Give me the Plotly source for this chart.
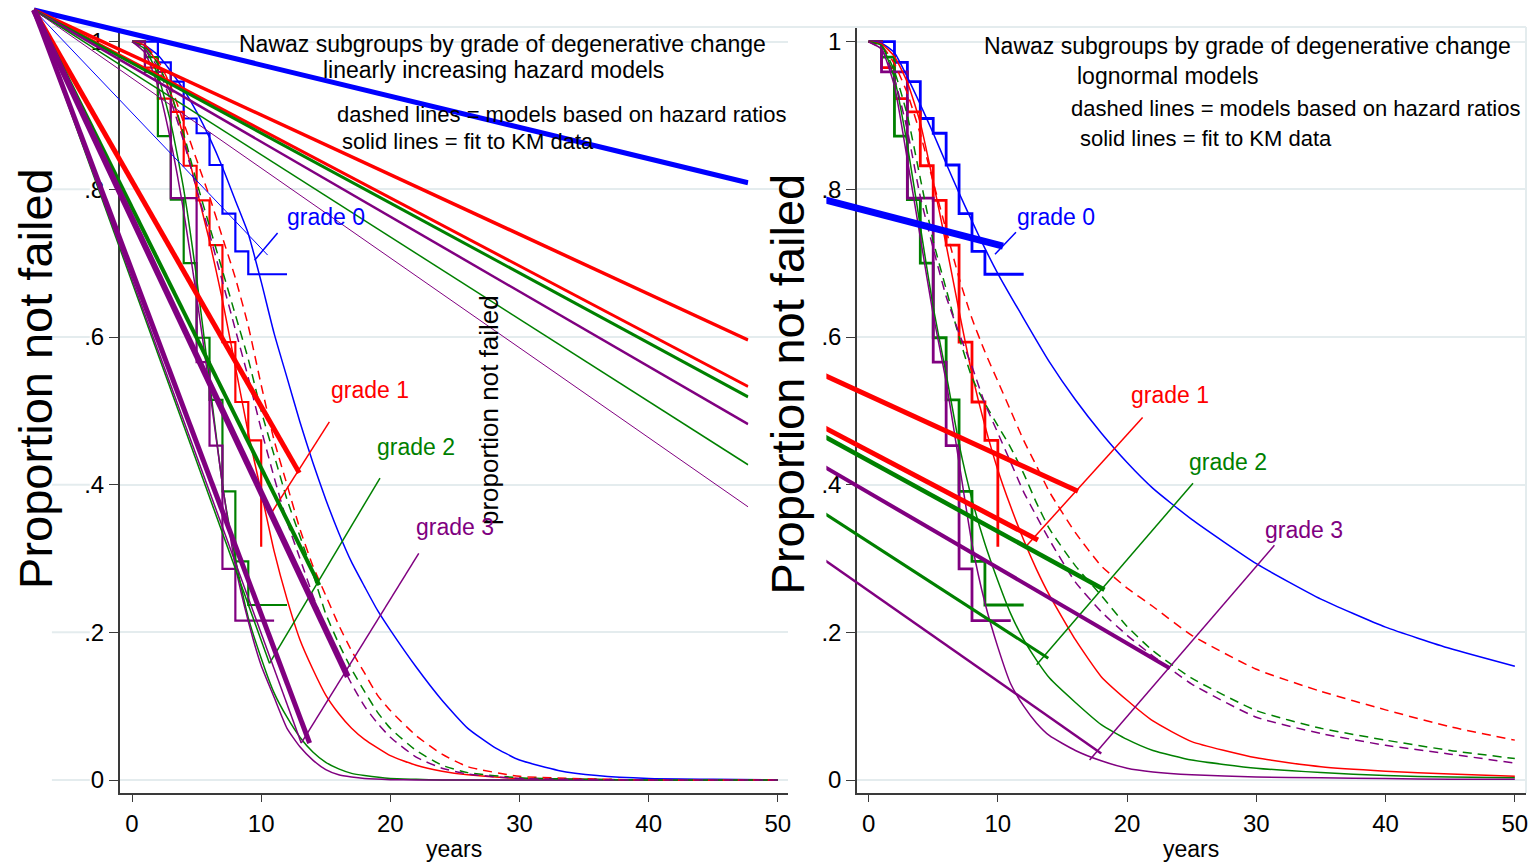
import plotly.graph_objects as go

W, H = 1532, 863
FONT = "Liberation Sans, Arial, sans-serif"
BLUE, RED, GREEN, PURPLE = "#0000ff", "#ff0000", "#008000", "#800080"
GRID = "#e4ecee"
AXIS = "#3a3a3a"

# ---------------- data ----------------
grade_labels = ["grade 0", "grade 1", "grade 2", "grade 3"]

# Kaplan-Meier step data (same in both panels)
km_t_g0 = [0, 2, 3, 4, 5, 6, 7, 8, 9, 12]
km_s_g0 = [1, 0.972, 0.946, 0.896, 0.876, 0.833, 0.767, 0.716, 0.685, 0.685]
km_t_g1 = [0, 1, 2, 3, 4, 5, 6, 7, 8, 9, 10]
km_s_g1 = [1, 0.965, 0.923, 0.905, 0.832, 0.785, 0.7245, 0.593, 0.512, 0.460, 0.316]
km_t_g2 = [0, 1, 2, 3, 4, 5, 6, 7, 8, 9, 12]
km_s_g2 = [1, 0.979, 0.872, 0.786, 0.700, 0.599, 0.515, 0.391, 0.296, 0.237, 0.237]
km_t_g3 = [0, 1, 3, 5, 6, 7, 8, 11]
km_s_g3 = [1, 0.959, 0.788, 0.566, 0.453, 0.286, 0.216, 0.216]

# Left panel: linearly increasing hazard models
lin_fit_t_g0 = [0, 1, 2, 3, 4, 5, 6, 7, 8, 9, 10, 11, 12, 13, 14, 15, 16, 17, 18, 19, 20, 22, 24, 26, 28, 30, 33, 36, 40, 45, 50]
lin_fit_s_g0 = [1, 0.995, 0.982, 0.96, 0.935, 0.905, 0.87, 0.83, 0.785, 0.74, 0.675, 0.605, 0.545, 0.485, 0.43, 0.38, 0.335, 0.295, 0.262, 0.23, 0.203, 0.153, 0.108, 0.07, 0.045, 0.027, 0.013, 0.006, 0.002, 0.001, 0.0]
lin_fit_t = [0, 1, 2, 3, 4, 5, 6, 7, 8, 9, 10, 11, 12, 13, 14, 15, 16, 17, 18, 20, 22, 24, 26, 30, 35, 40, 50]
lin_fit_s_g1 = [1, 0.995, 0.97, 0.93, 0.87, 0.8, 0.73, 0.65, 0.56, 0.47, 0.39, 0.31, 0.245, 0.19, 0.15, 0.115, 0.09, 0.07, 0.055, 0.033, 0.02, 0.012, 0.007, 0.002, 0.001, 0.0, 0.0]
lin_fit_s_g2 = [1, 0.99, 0.955, 0.89, 0.8, 0.68, 0.54, 0.40, 0.30, 0.22, 0.165, 0.118, 0.085, 0.058, 0.038, 0.024, 0.015, 0.009, 0.006, 0.002, 0.001, 0.0, 0.0, 0.0, 0.0, 0.0, 0.0]
lin_fit_s_g3 = [1, 0.985, 0.94, 0.865, 0.77, 0.655, 0.53, 0.40, 0.29, 0.215, 0.155, 0.112, 0.07, 0.045, 0.027, 0.014, 0.007, 0.004, 0.002, 0.0005, 0.0, 0.0, 0.0, 0.0, 0.0, 0.0, 0.0]
lin_hr_t = [0, 1, 2, 3, 4, 5, 6, 7, 8, 9, 10, 11, 12, 13, 14, 15, 16, 17, 18, 19, 20, 22, 24, 26, 30, 40, 50]
lin_hr_s_g1 = [1, 0.995, 0.975, 0.94, 0.89, 0.84, 0.79, 0.735, 0.68, 0.615, 0.535, 0.46, 0.40, 0.34, 0.29, 0.25, 0.21, 0.175, 0.145, 0.115, 0.094, 0.06, 0.035, 0.018, 0.005, 0.0, 0.0]
lin_hr_s_g2 = [1, 0.993, 0.97, 0.93, 0.875, 0.81, 0.75, 0.69, 0.63, 0.57, 0.50, 0.44, 0.38, 0.33, 0.28, 0.225, 0.185, 0.15, 0.12, 0.092, 0.07, 0.04, 0.02, 0.01, 0.003, 0.0, 0.0]
lin_hr_s_g3 = [1, 0.99, 0.965, 0.92, 0.865, 0.80, 0.74, 0.675, 0.61, 0.545, 0.475, 0.41, 0.35, 0.30, 0.25, 0.205, 0.165, 0.13, 0.10, 0.077, 0.058, 0.031, 0.016, 0.008, 0.002, 0.0, 0.0]

# Right panel: lognormal models
log_fit_t_g0 = [0, 1, 2, 3, 4, 5, 6, 7, 8, 9, 10, 12, 14, 16, 18, 20, 22, 25, 30, 35, 40, 45, 50]
log_fit_s_g0 = [1, 0.998, 0.985, 0.952, 0.915, 0.876, 0.835, 0.795, 0.757, 0.72, 0.686, 0.625, 0.566, 0.515, 0.47, 0.43, 0.395, 0.353, 0.293, 0.245, 0.207, 0.178, 0.154]
log_t = [0, 1, 2, 3, 4, 5, 6, 7, 8, 9, 10, 11, 12, 13, 14, 16, 18, 20, 22, 25, 30, 35, 40, 45, 50]
log_fit_s_g1 = [1, 0.997, 0.98, 0.945, 0.89, 0.81, 0.725, 0.635, 0.55, 0.48, 0.42, 0.37, 0.325, 0.285, 0.25, 0.19, 0.14, 0.108, 0.08, 0.052, 0.03, 0.018, 0.012, 0.008, 0.005]
log_fit_s_g2 = [1, 0.995, 0.95, 0.86, 0.75, 0.64, 0.55, 0.455, 0.38, 0.32, 0.27, 0.225, 0.19, 0.162, 0.138, 0.105, 0.075, 0.055, 0.04, 0.027, 0.016, 0.01, 0.006, 0.004, 0.003]
log_fit_s_g3 = [1, 0.99, 0.94, 0.84, 0.735, 0.63, 0.54, 0.43, 0.32, 0.24, 0.18, 0.13, 0.10, 0.077, 0.06, 0.04, 0.026, 0.016, 0.011, 0.007, 0.004, 0.003, 0.002, 0.001, 0.001]
log_hr_s_g1 = [1, 0.995, 0.97, 0.93, 0.875, 0.81, 0.745, 0.68, 0.625, 0.58, 0.54, 0.50, 0.46, 0.425, 0.39, 0.335, 0.29, 0.26, 0.235, 0.196, 0.15, 0.12, 0.095, 0.072, 0.054]
log_hr_s_g2 = [1, 0.995, 0.96, 0.90, 0.815, 0.73, 0.665, 0.60, 0.545, 0.51, 0.48, 0.45, 0.415, 0.375, 0.34, 0.29, 0.25, 0.208, 0.175, 0.138, 0.094, 0.07, 0.054, 0.04, 0.029]
log_hr_s_g3 = [1, 0.99, 0.95, 0.88, 0.79, 0.72, 0.655, 0.605, 0.56, 0.51, 0.47, 0.43, 0.39, 0.357, 0.325, 0.268, 0.228, 0.196, 0.168, 0.13, 0.085, 0.063, 0.047, 0.035, 0.023]

# Straight segments (left panel): common start, various ends
lin_ray_x0, lin_ray_y0 = -7.6, 1.043
lin_ray_x1 = [47.7, 10.5, 47.7, 47.7, 47.7, 47.7, 47.7, 47.7, 12.95, 10.8, 14.5, 10.64, 16.7, 13.75, 13.1]
lin_ray_y1 = [0.809, 0.711, 0.596, 0.533, 0.519, 0.482, 0.427, 0.370, 0.416, 0.362, 0.264, 0.158, 0.14, 0.05, 0.05]
# Straight segments (right panel)
log_ray_x0 = [-3.4, -3.4, -3.4, -3.4, -3.4, -3.4, -3.4]
log_ray_y0 = [0.786, 0.548, 0.477, 0.465, 0.424, 0.361, 0.298]
log_ray_x1 = [10.4, 16.2, 13.1, 18.25, 23.3, 13.9, 18.0]
log_ray_y1 = [0.723, 0.391, 0.325, 0.2576, 0.1515, 0.165, 0.036]

# Label positions and pointer lines
lin_label_x = [15.0, 18.4, 22.0, 25.0]
lin_label_y = [0.763, 0.528, 0.451, 0.343]
lin_ptr_x = [[11.27, 9.49], [15.28, 10.8], [19.2, 10.64], [22.2, 13.1]]
lin_ptr_y = [[0.741, 0.704], [0.485, 0.362], [0.409, 0.158], [0.307, 0.050]]
log_label_x = [14.5, 23.3, 27.8, 33.7]
log_label_y = [0.762, 0.522, 0.431, 0.339]
log_ptr_x = [[11.4, 9.78], [21.2, 12.1], [25.1, 13.0], [31.4, 17.1]]
log_ptr_y = [[0.742, 0.712], [0.491, 0.315], [0.402, 0.156], [0.318, 0.027]]

y_ticks = [0, 0.2, 0.4, 0.6, 0.8, 1]
y_ticktext = ["0", ".2", ".4", ".6", ".8", "1"]
x_ticks = [0, 10, 20, 30, 40, 50]

# ---------------- styles ----------------
colors = [BLUE, RED, GREEN, PURPLE]
lin_ray_colors = [BLUE, BLUE, RED, RED, GREEN, PURPLE, GREEN, PURPLE, RED, RED, GREEN, GREEN, PURPLE, PURPLE, PURPLE]
lin_ray_widths = [5, 1, 3.5, 3, 3, 2.5, 1.5, 1, 5, 1.5, 4, 1.5, 6, 5, 1.5]
log_ray_colors = [BLUE, RED, RED, GREEN, PURPLE, GREEN, PURPLE]
log_ray_widths = [7, 5, 5, 4.5, 4, 3, 2.5]

# pixel geometry
XL0, XLS = 132.3, 12.94     # left: px of x=0, px per year
XR0, XRS = 870.3, 12.95     # right
Y0, YS = 780.0, 738.3       # px of y=0, px per unit
TOP, BOT = 28, 793


def px(x):
    return x / W


def py(y):
    return 1 - y / H


fig = go.Figure()


def add(x, y, xa, ya, color, width, dash="solid", shape="linear"):
    line = dict(color=color, width=width, dash=dash, shape=shape)
    if shape == "spline":
        line["smoothing"] = 0.5
    fig.add_trace(go.Scatter(x=x, y=y, mode="lines", xaxis=xa, yaxis=ya, line=line,
                             hoverinfo="skip", showlegend=False))


km_t = [km_t_g0, km_t_g1, km_t_g2, km_t_g3]
km_s = [km_s_g0, km_s_g1, km_s_g2, km_s_g3]

# ---- left panel ----
lin_fit = [(lin_fit_t_g0, lin_fit_s_g0), (lin_fit_t, lin_fit_s_g1), (lin_fit_t, lin_fit_s_g2), (lin_fit_t, lin_fit_s_g3)]
lin_hr = [(lin_hr_t, lin_hr_s_g1), (lin_hr_t, lin_hr_s_g2), (lin_hr_t, lin_hr_s_g3)]
for i in range(4):
    add(km_t[i], km_s[i], "x", "y", colors[i], 2.2, shape="hv")
for i in range(4):
    add(lin_fit[i][0], lin_fit[i][1], "x", "y", colors[i], 1.5, shape="spline")
for i in range(3):
    add(lin_hr[i][0], lin_hr[i][1], "x", "y", colors[i + 1], 1.5, dash="9px,6px", shape="spline")

# ---- right panel ----
log_fit = [(log_fit_t_g0, log_fit_s_g0), (log_t, log_fit_s_g1), (log_t, log_fit_s_g2), (log_t, log_fit_s_g3)]
log_hr = [log_hr_s_g1, log_hr_s_g2, log_hr_s_g3]
for i in range(4):
    add(km_t[i], km_s[i], "x2", "y2", colors[i], 2.8, shape="hv")
for i in range(4):
    add(log_fit[i][0], log_fit[i][1], "x2", "y2", colors[i], 1.5, shape="spline")
for i in range(3):
    add(log_t, log_hr[i], "x2", "y2", colors[i + 1], 1.5, dash="9px,6px", shape="spline")

# pointers
for i in range(4):
    add(lin_ptr_x[i], lin_ptr_y[i], "x", "y", colors[i], 1.5)
    add(log_ptr_x[i], log_ptr_y[i], "x2", "y2", colors[i], 1.5)

# straight segments on overlay axes
for i in range(len(lin_ray_x1)):
    add([lin_ray_x0, lin_ray_x1[i]], [lin_ray_y0, lin_ray_y1[i]], "x3", "y3",
        lin_ray_colors[i], lin_ray_widths[i])
for i in range(len(log_ray_x1)):
    add([log_ray_x0[i], log_ray_x1[i]], [log_ray_y0[i], log_ray_y1[i]], "x4", "y4",
        log_ray_colors[i], log_ray_widths[i])

# ---------------- axes ----------------
tickfont = dict(family=FONT, size=24, color="black")
common_x = dict(tickvals=x_ticks, ticks="outside", ticklen=7, tickwidth=1.2, tickcolor=AXIS,
                showline=True, linecolor=AXIS, linewidth=1.5, showgrid=False, zeroline=False,
                tickfont=tickfont, ticklabelstandoff=1)
common_y = dict(tickvals=y_ticks, ticktext=y_ticktext, ticks="outside", ticklen=9, tickwidth=1.2,
                tickcolor=AXIS, showline=True, linecolor=AXIS, linewidth=1.5, showgrid=True,
                gridcolor=GRID, gridwidth=2, zeroline=False, tickfont=tickfont)
yrange = [(Y0 - BOT) / YS, (Y0 - TOP) / YS]
ydom = [py(BOT), py(TOP)]

fig.update_layout(
    width=W, height=H, autosize=False,
    margin=dict(l=0, r=0, t=0, b=0, pad=0),
    paper_bgcolor="white", plot_bgcolor="rgba(0,0,0,0)",
    font=dict(family=FONT, color="black"),
    showlegend=False,
    xaxis=dict(domain=[px(120), px(790)], range=[(120 - XL0) / XLS, (790 - XL0) / XLS], anchor="y", **common_x),
    yaxis=dict(domain=ydom, range=yrange, anchor="x", **common_y),
    xaxis2=dict(domain=[px(858.7), px(1529)], range=[(858.7 - XR0) / XRS, (1529 - XR0) / XRS], anchor="y2", **common_x),
    yaxis2=dict(domain=ydom, range=yrange, anchor="x2", **common_y),
    xaxis3=dict(domain=[0, px(750)], range=[(0 - XL0) / XLS, (750 - XL0) / XLS], anchor="y3", visible=False),
    yaxis3=dict(domain=[py(BOT), 1], range=[(Y0 - BOT) / YS, Y0 / YS], anchor="x3", visible=False),
    xaxis4=dict(domain=[px(828), px(1529)], range=[(828 - XR0) / XRS, (1529 - XR0) / XRS], anchor="y4", visible=False),
    yaxis4=dict(domain=ydom, range=yrange, anchor="x4", visible=False),
)

# light frame / grid extensions
shapes = []
shapes.append(dict(type="line", xref="paper", yref="paper", x0=px(52), x1=px(1529), y0=py(27), y1=py(27),
                   line=dict(color=GRID, width=2), layer="below"))
shapes.append(dict(type="line", xref="paper", yref="paper", x0=px(1529), x1=px(1529), y0=py(27), y1=py(BOT),
                   line=dict(color=GRID, width=2), layer="below"))
for v in y_ticks:
    shapes.append(dict(type="line", xref="paper", yref="y", x0=px(52), x1=px(90), y0=v, y1=v,
                       line=dict(color=GRID, width=2), layer="below"))
fig.update_layout(shapes=shapes)

# ---------------- text ----------------
ann = []


def text(t, x, y, size, xanchor="center", angle=0, color="black"):
    ann.append(dict(text=t, x=px(x), y=py(y), xref="paper", yref="paper", showarrow=False,
                    xanchor=xanchor, yanchor="middle", textangle=angle,
                    font=dict(family=FONT, size=size, color=color)))


text("Nawaz subgroups by grade of degenerative change", 503, 44, 23)
text("linearly increasing hazard models", 494, 70, 23)
text("dashed lines = models based on hazard ratios", 563, 115, 22)
text("solid lines = fit to KM data", 341, 142, 22, xanchor="left")
text("Nawaz subgroups by grade of degenerative change", 1250, 46, 23)
text("lognormal models", 1170, 76, 23)
text("dashed lines = models based on hazard ratios", 1298, 109, 22)
text("solid lines = fit to KM data", 1080, 138, 22, xanchor="left")
text("years", 455, 849, 23)
text("years", 1193, 849, 23)
text("Proportion not failed", 35, 378, 47, angle=-90)
text("Proportion not failed", 790, 384, 47, angle=-90)
text("proportion not failed", 490, 410, 26, angle=-90)

for i in range(4):
    ann.append(dict(text=grade_labels[i], x=lin_label_x[i], y=lin_label_y[i], xref="x", yref="y",
                    showarrow=False, font=dict(family=FONT, size=23, color=colors[i])))
    ann.append(dict(text=grade_labels[i], x=log_label_x[i], y=log_label_y[i], xref="x2", yref="y2",
                    showarrow=False, font=dict(family=FONT, size=23, color=colors[i])))

fig.update_layout(annotations=ann)
fig.write_html("out.html", config={"displayModeBar": False},
               post_script="document.body.style.margin='0';document.body.style.overflow='hidden';")
